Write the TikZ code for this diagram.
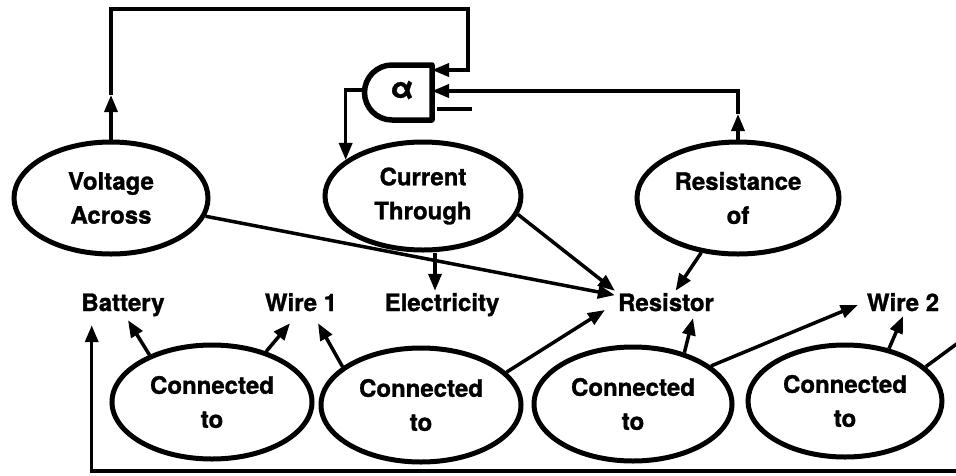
\documentclass[tikz,border=0pt]{standalone}
\usepackage{fontspec}
\setmainfont{TeX Gyre Heros}[BoldFeatures={FakeBold=1.2}]
\usetikzlibrary{arrows.meta,shapes.geometric,calc}
\begin{document}
\begin{tikzpicture}[x=1pt,y=-1pt,
  txt/.style={font=\bfseries\fontsize{24}{34}\selectfont},
  ell/.style={ellipse, draw, line width=5pt, inner sep=0pt, align=center, txt},
  lab/.style={inner xsep=3pt, inner ysep=3pt, text height=17pt, text depth=5pt, txt},
  conn/.style={line width=3.5pt},
  arr/.style={conn, -{Triangle[length=17pt,width=13pt]}},
  gatebody/.style={line width=5.5pt, line join=round}
]
\useasboundingbox (0,0) rectangle (956,475);

% concept ellipses
\node[ell, minimum width=194pt, minimum height=112pt] (va) at (111,198) {Voltage\\Across};
\node[ell, minimum width=196pt, minimum height=108pt] (ct) at (423,196) {Current\\Through};
\node[ell, minimum width=202pt, minimum height=112pt] (ro) at (738,198) {Resistance\\of};
\node[ell, minimum width=200pt, minimum height=114pt] (c1) at (212,402) {Connected\\to};
\node[ell, minimum width=200pt, minimum height=114pt] (c2) at (421,405) {Connected\\to};
\node[ell, minimum width=198pt, minimum height=114pt] (c3) at (633,404) {Connected\\to};
\node[ell, minimum width=194pt, minimum height=112pt] (c4) at (845,401) {Connected\\to};

% labels
\node[lab] (batt)  at (123,305) {Battery};
\node[lab] (wire1) at (301,305) {Wire 1};
\node[lab] (elec)  at (442,305) {Electricity};
\node[lab] (res)   at (666,305) {Resistor};
\node[lab] (wire2) at (903,305) {Wire 2};

% gate
\draw[gatebody] (432,65) -- (392,65) arc[start angle=90,end angle=270,radius=27.5pt] -- (432,120) -- cycle;
\node[txt, font=\bfseries\fontsize{30}{30}\selectfont] (gate) at (402,90) {α};
\coordinate (gin1) at (432,70);
\coordinate (gin2) at (432,91);
\coordinate (gin3) at (437,109);
\coordinate (gout) at (364,90);

% feedback into gate
\coordinate (vamid) at (111,95);
\draw[arr] (va.north) -- (vamid);
\draw[arr] (vamid) |- (468,9) |- (gin1);
\coordinate (romid) at (738,114);
\draw[arr] (ro.north) -- (romid);
\draw[arr] (romid) |- (gin2);
\draw[conn] (gin3) -- ++(35,0);
\draw[arr] (gout) -| (ct.155);

% relations
\draw[arr] ($(ct.south)+(12,0)$) -- ($(elec.north)+(-7,0)$);
\draw[arr] (va) -- (res);
\draw[arr] (ct.-11) -- (res.north west);
\draw[arr] (ro) -- (res);

\draw[arr] (c1.143) -- ($(batt.south)+(5,1)$);
\draw[arr] (c1.43) -- ($(wire1.south)+(-11,4)$);
\draw[arr] (c2.154) -- ($(wire1.south)+(17,4)$);
\draw[arr] (c2.21) -- ($(res.west)+(-10,5)$);
\draw[arr] (c3.45) -- ($(res.south)+(27,-1)$);
\draw[arr] (c3.26) -- ($(wire2.west)+(-6,0)$);
\draw[arr] (c4.50) -- ($(wire2.south)+(0,-3)$);
\coordinate (offr) at (962,340);
\draw[conn] (c4.23) -- (offr);

\coordinate (offb) at (962,471);
\draw[arr] (offb) -| ($(batt.south west)+(13.5,6)$);
\end{tikzpicture}
\end{document}
